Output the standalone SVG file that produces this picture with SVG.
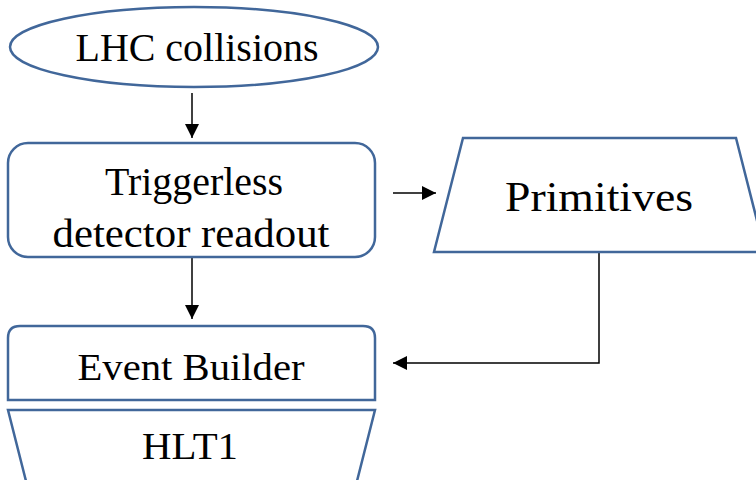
<svg xmlns="http://www.w3.org/2000/svg" width="756" height="480" viewBox="0 0 756 480">
<style>
.shape{fill:#fff;stroke:#41679a;stroke-width:2.5}
.lbl{font-family:"Liberation Serif","Times New Roman",serif;fill:#000;text-anchor:middle}
.conn{fill:none;stroke:#000;stroke-width:1.5}
</style>
<defs>
<marker id="ah" markerUnits="userSpaceOnUse" markerWidth="14" markerHeight="14" viewBox="0 0 14 14" refX="14" refY="7" orient="auto">
<path d="M0,0 L14,7 L0,14 Z" fill="#000"/>
</marker>
</defs>
<rect width="756" height="480" fill="#fff"/>
<g id="connectors">
<line class="conn" x1="192" y1="93" x2="192" y2="138" marker-end="url(#ah)"/>
<line class="conn" x1="192" y1="258" x2="192" y2="319" marker-end="url(#ah)"/>
<line class="conn" x1="393" y1="193" x2="436" y2="193" marker-end="url(#ah)"/>
<polyline class="conn" points="599,252 599,363 393,363" marker-end="url(#ah)"/>
</g>
<g id="lhc">
<ellipse class="shape" cx="194" cy="47" rx="184" ry="40"/>
<text class="lbl" x="197" y="61" font-size="40" textLength="243" lengthAdjust="spacingAndGlyphs">LHC collisions</text>
</g>
<g id="readout">
<rect class="shape" x="8" y="143" width="367" height="114" rx="20"/>
<text class="lbl" x="194" y="195" font-size="40" textLength="178" lengthAdjust="spacingAndGlyphs">Triggerless</text>
<text class="lbl" x="191" y="247" font-size="40" textLength="277" lengthAdjust="spacingAndGlyphs">detector readout</text>
</g>
<g id="primitives">
<polygon class="shape" points="463,138 736,138 765,252 434,252"/>
<text class="lbl" x="599" y="211" font-size="42" textLength="188" lengthAdjust="spacingAndGlyphs">Primitives</text>
</g>
<g id="eventbuilder">
<path class="shape" d="M8,400 L8,338 Q8,326 20,326 L363,326 Q375,326 375,338 L375,400 Z"/>
<text class="lbl" x="191" y="380" font-size="38" textLength="227" lengthAdjust="spacingAndGlyphs">Event Builder</text>
</g>
<g id="hlt1">
<polygon class="shape" points="8,410 375,410 356,485 27,485"/>
<text class="lbl" x="190" y="459" font-size="38" textLength="96" lengthAdjust="spacingAndGlyphs">HLT1</text>
</g>
</svg>
